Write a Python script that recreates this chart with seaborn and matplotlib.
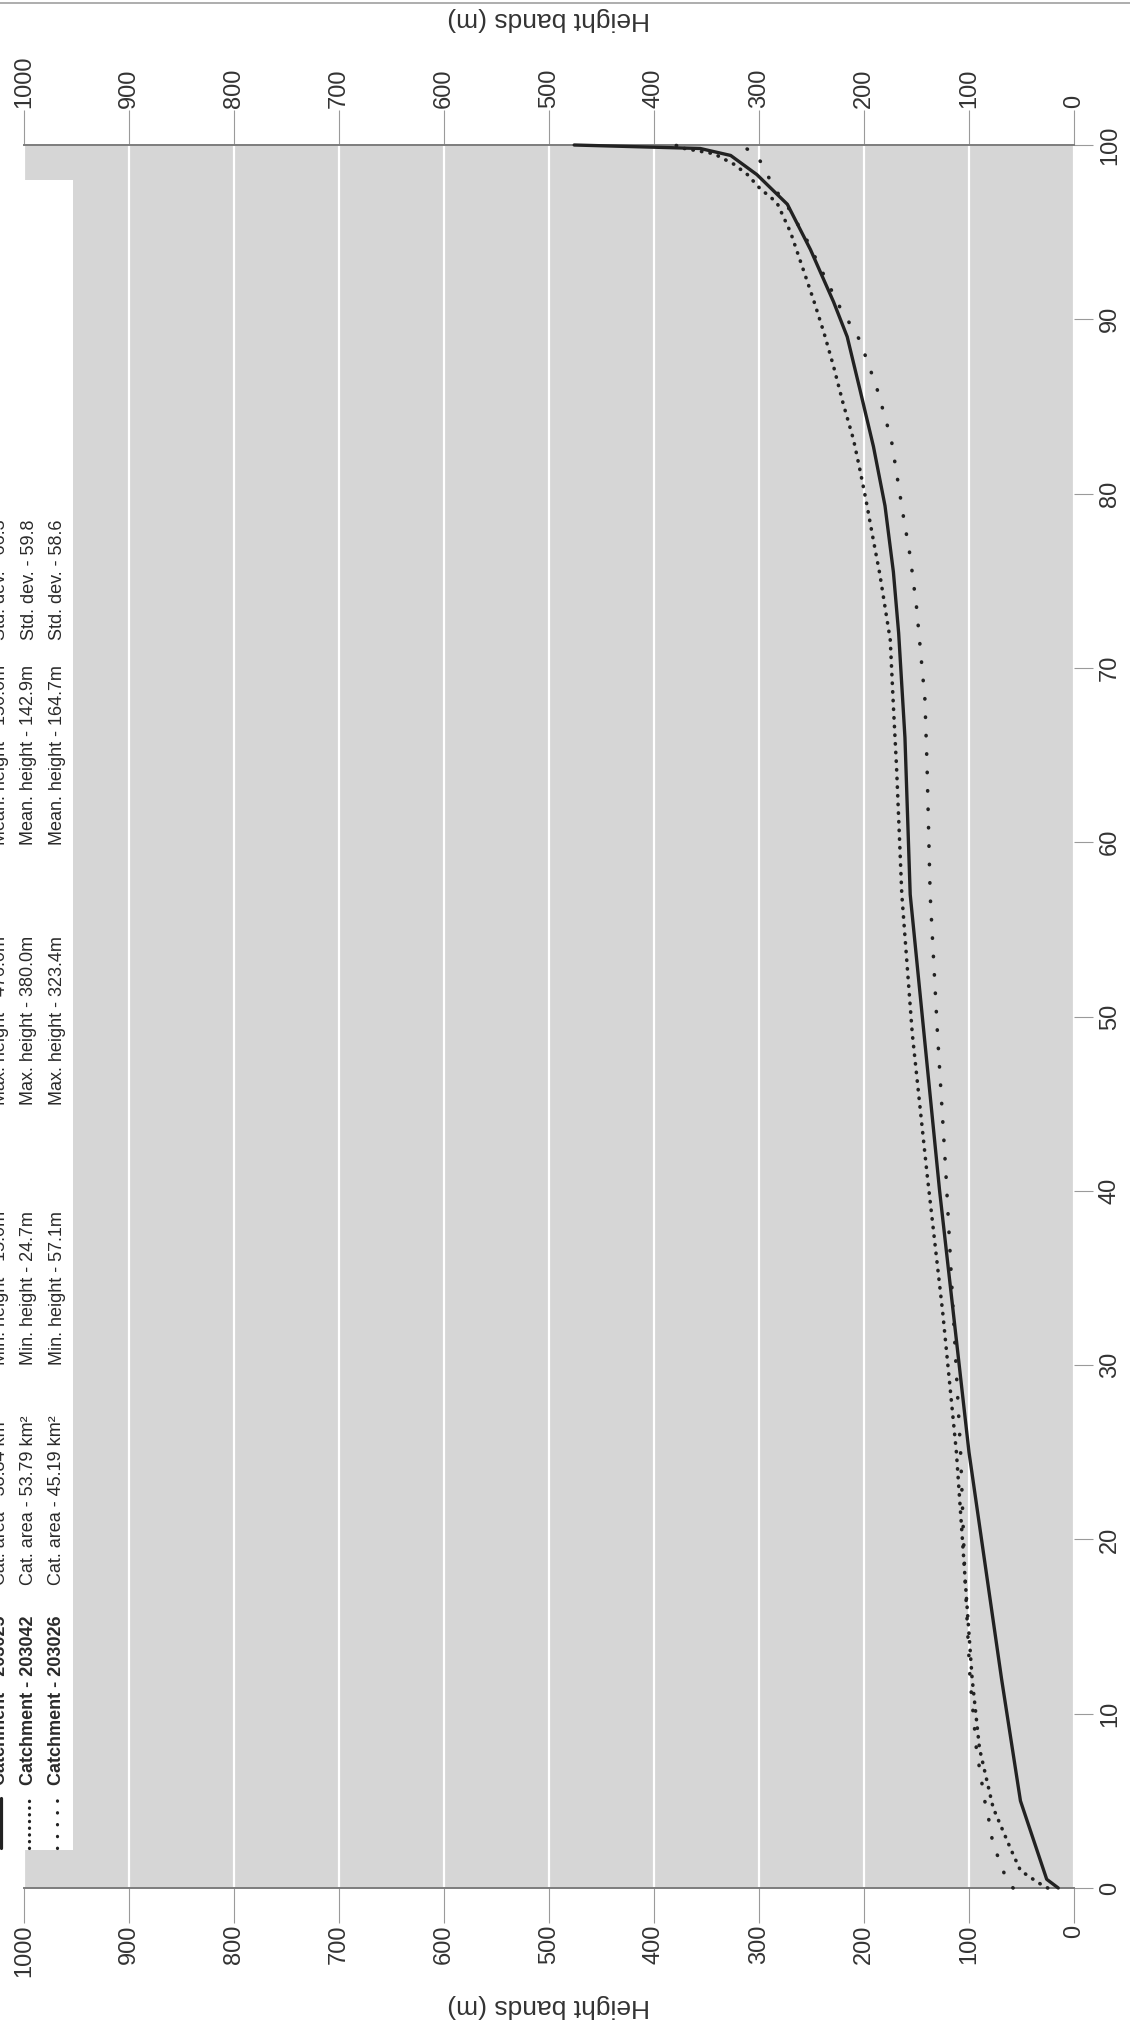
import matplotlib
matplotlib.use("Agg")
import matplotlib.pyplot as plt
import seaborn as sns
import pandas as pd
from matplotlib.lines import Line2D
from matplotlib.patches import Rectangle

# ---------------- data (percentage of catchment area vs height band) -------------
pct_203025 = [0, 0.5, 5, 12, 25, 40, 57, 66, 72, 75.5, 79.3, 82.7, 86, 89, 91, 94,
              96.6, 98.3, 99.4, 99.8, 100]
hgt_203025 = [15, 26, 51, 69, 100, 128, 156, 161, 167, 172, 180, 191, 204, 216, 229,
              251, 273, 302, 327, 356, 476]

pct_203042 = [0, 0.3, 1, 2.2, 4.6, 8, 12, 18, 25, 33, 41, 49, 57, 64.3, 67.8, 71.6,
              73.5, 75.4, 77.3, 79.6, 81.4, 83.1, 85.2, 87.3, 89.2, 91.1, 92.7, 95,
              96.7, 97.5, 98.3, 98.9, 99.5, 99.8, 100]
hgt_203042 = [25, 34, 51, 60, 77, 90, 97, 104, 112, 125, 140, 154, 164, 169, 172, 175,
              180, 185, 191, 198, 204, 210, 220, 229, 238, 248, 257, 270, 283, 299,
              311, 324, 343, 371, 380]

pct_203026 = [0, 0.36, 1.5, 2.4, 3.6, 5, 8, 12, 18, 25, 33, 41, 49, 57, 64.5, 68.2,
              73.5, 76.4, 78.7, 83.1, 86.1, 88.8, 90.7, 93, 94.5, 96.4, 97.4, 98.5,
              99, 99.6, 100]
hgt_203026 = [58, 64, 70, 77, 80, 85, 93, 99, 104, 108, 115, 122, 130, 137, 140, 142,
              150, 156, 162.5, 174, 188, 204, 223, 242, 254, 272, 284, 294, 298, 305,
              320]

height_ticks = list(range(0, 1001, 100))
pct_ticks = list(range(0, 101, 10))

legend_rows = [
    ["Catchment - 203025", "Cat. area - 38.84 km\u00b2", "Min. height - 15.0m",
     "Max. height - 476.0m", "Mean. height - 150.0m", "Std. dev. - 66.3"],
    ["Catchment - 203042", "Cat. area - 53.79 km\u00b2", "Min. height - 24.7m",
     "Max. height - 380.0m", "Mean. height - 142.9m", "Std. dev. - 59.8"],
    ["Catchment - 203026", "Cat. area - 45.19 km\u00b2", "Min. height - 57.1m",
     "Max. height - 323.4m", "Mean. height - 164.7m", "Std. dev. - 58.6"],
]

# ---------------- style -------------
sns.set_theme(style="white")
plt.rcParams["font.family"] = ["Liberation Sans", "DejaVu Sans"]
plt.rcParams["lines.dash_capstyle"] = "round"
plt.rcParams["lines.solid_capstyle"] = "round"

W, H = 1130, 2025
fig = plt.figure(figsize=(W / 100, H / 100), dpi=100)
fig.patch.set_facecolor("white")

def fx(x):
    return x / W

def fy(y):
    return 1 - y / H

ax = fig.add_axes([fx(24), fy(1888), fx(1074) - fx(24), fy(145) - fy(1888)])
ax.set_facecolor("#d6d6d6")

line_col = "#222222"
styles = [
    (pct_203025, hgt_203025, "-", 2.4),
    (pct_203042, hgt_203042, (0, (0.1, 2.3)), 2.6),
    (pct_203026, hgt_203026, (0, (0.1, 5.0)), 2.6),
]
for pc, hg, ls, lw in styles:
    df = pd.DataFrame({"height": hg, "pct": pc})
    sns.lineplot(data=df, x="height", y="pct", sort=False, estimator=None,
                 ax=ax, color=line_col, linestyle=ls, linewidth=lw, clip_on=False,
                 zorder=5)

ax.set_xlim(1000, 0)
ax.set_ylim(0, 100)
ax.set_xticks(height_ticks)
ax.set_yticks(pct_ticks)
ax.grid(axis="x", color="white", linewidth=1.6)
ax.grid(axis="y", visible=False)

for s in ["left", "right"]:
    ax.spines[s].set_visible(False)
for s in ["top", "bottom"]:
    ax.spines[s].set_visible(True)
    ax.spines[s].set_color("#7d7d7d")
    ax.spines[s].set_linewidth(1.4)

tick_col = "#9a9a9a"
lab_col = "#333333"
ax.tick_params(axis="x", which="both", direction="out", bottom=True, top=True,
               labelbottom=True, labeltop=True, length=25.5, width=0.8,
               color=tick_col, pad=1, labelsize=17, labelcolor=lab_col,
               labelrotation=90)
ax.yaxis.tick_right()
ax.tick_params(axis="y", which="both", direction="out", left=False, right=True,
               labelleft=False, labelright=True, length=14, width=0.8,
               color=tick_col, pad=4, labelsize=17, labelcolor=lab_col,
               labelrotation=90)
for lab in ax.get_yticklabels():
    lab.set_verticalalignment("center")

ax.set_xlabel("Height bands (m)", fontsize=19, color=lab_col, rotation=180,
              labelpad=12)
ax.set_ylabel("")
fig.text(0.5 * (fx(24) + fx(1074)), fy(19), "Height bands (m)", rotation=180,
         ha="center", va="center", fontsize=19, color=lab_col)

# page rule at the top edge
fig.add_artist(Line2D([0, 1], [fy(3), fy(3)], transform=fig.transFigure,
                      color="#a0a0a0", linewidth=1.2))

# ---------------- legend (rotated) -------------
fig.add_artist(Rectangle((0, fy(1850)), fx(73), fy(180) - fy(1850),
                         transform=fig.transFigure, facecolor="white",
                         edgecolor="none", zorder=10))

row_x = [1, 29, 57]
col_y = [1785, 1585, 1365, 1105, 845, 640]
marker_styles = ["-", (0, (0.1, 2.0)), (0, (0.1, 3.6))]
for r, (rx, fields) in enumerate(zip(row_x, legend_rows)):
    fig.add_artist(Line2D([fx(rx), fx(rx)], [fy(1848), fy(1798)],
                          transform=fig.transFigure, color=line_col,
                          linestyle=marker_styles[r], linewidth=2.3, zorder=11))
    for c, (cy, txt) in enumerate(zip(col_y, fields)):
        fig.text(fx(rx), fy(cy), txt, rotation=90, ha="center", va="bottom",
                 fontsize=13, color="#2a2a2a",
                 fontweight="bold" if c == 0 else "normal", zorder=12)

fig.savefig("out.png", dpi=100, facecolor="white")
